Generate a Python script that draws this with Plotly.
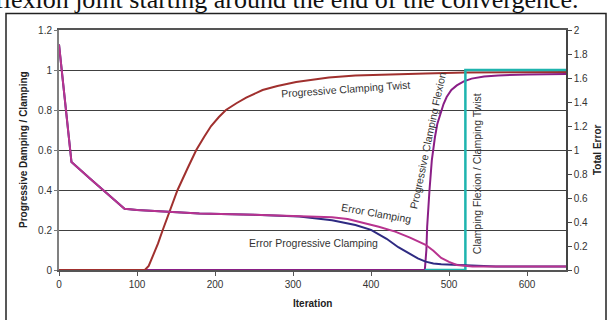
import plotly.graph_objects as go

# ---- data ----
# Error curves on the right axis (Total Error)
iter_err_clamp = [0, 16, 40, 60, 84, 100, 135, 180, 250, 308, 350, 370, 393, 410, 431, 450,
                  470, 480, 490, 500, 510, 520, 530, 560, 600, 650]
err_clamp = [1.88, 0.90, 0.76, 0.65, 0.51, 0.50, 0.485, 0.47, 0.46, 0.45, 0.44, 0.425, 0.39,
             0.36, 0.32, 0.27, 0.21, 0.16, 0.10, 0.067, 0.042, 0.033, 0.03, 0.03, 0.03, 0.03]

iter_err_prog = [0, 16, 40, 60, 84, 100, 135, 180, 250, 308, 350, 380, 400, 420, 435, 450,
                 460, 470, 480, 490, 500, 520, 530, 560, 600, 650]
err_prog = [1.88, 0.90, 0.76, 0.65, 0.51, 0.50, 0.485, 0.47, 0.46, 0.445, 0.415, 0.375, 0.335,
            0.26, 0.19, 0.135, 0.097, 0.07, 0.055, 0.048, 0.045, 0.04, 0.033, 0.03, 0.03, 0.03]

# Clamping curves on the left axis
iter_twist = [0, 110, 115, 120, 127, 133, 142, 152, 165, 176, 186, 195, 205, 214, 228, 240,
              261, 280, 304, 325, 346, 380, 420, 470, 521, 580, 650]
prog_twist = [0, 0, 0.02, 0.066, 0.133, 0.2, 0.29, 0.4, 0.51, 0.6, 0.665, 0.72, 0.765, 0.8,
              0.835, 0.862, 0.9, 0.92, 0.94, 0.953, 0.963, 0.972, 0.978, 0.983, 0.987, 0.99, 0.99]

iter_flex = [0, 469, 471, 472, 475, 478, 482, 485, 489, 493, 497, 503, 510, 519, 529, 545,
             563, 600, 650]
prog_flex = [0, 0, 0.1, 0.216, 0.4, 0.55, 0.665, 0.73, 0.78, 0.83, 0.865, 0.9, 0.923, 0.943,
             0.957, 0.967, 0.973, 0.978, 0.98]

iter_ratio = [469, 521, 521, 650]
ratio = [0, 0, 1.0, 1.0]

x_ticks = [0, 100, 200, 300, 400, 500, 600]
y_ticks = [0, 0.2, 0.4, 0.6, 0.8, 1, 1.2]
y2_ticks = [0, 0.2, 0.4, 0.6, 0.8, 1, 1.2, 1.4, 1.6, 1.8, 2]

# ---- layout geometry (pixels) ----
W, H = 612, 320
L, R, T, B = 59, 566, 29.5, 270
XS = (R - L) / 650.0
YS = (B - T) / 1.2


def px(x):
    return (x - L) / (R - L)


def py(y):
    return (B - y) / (B - T)


def dx(p):
    return (p - L) / XS


def dy(p):
    return (B - p) / YS


FONT = "Liberation Sans, Arial, sans-serif"
C_RED = "#A0302E"
C_PINK = "#B8338F"
C_NAVY = "#2E2A82"
C_PURPLE = "#8A1E86"
C_TEAL = "#1EB4AE"

fig = go.Figure()
fig.add_trace(go.Scatter(x=iter_err_prog, y=err_prog, yaxis="y2", mode="lines",
                         line=dict(color=C_NAVY, width=2), name="Error Progressive Clamping"))
fig.add_trace(go.Scatter(x=iter_err_clamp, y=err_clamp, yaxis="y2", mode="lines",
                         line=dict(color=C_PINK, width=2), name="Error Clamping"))
fig.add_trace(go.Scatter(x=iter_flex, y=prog_flex, mode="lines",
                         line=dict(color=C_PURPLE, width=2), name="Progressive Clamping Flexion"))
fig.add_trace(go.Scatter(x=iter_twist, y=prog_twist, mode="lines",
                         line=dict(color=C_RED, width=2), name="Progressive Clamping Twist"))
fig.add_trace(go.Scatter(x=iter_ratio, y=ratio, mode="lines",
                         line=dict(color=C_TEAL, width=2.5), name="Clamping Flexion / Clamping Twist"))

tickfont = dict(family=FONT, size=10, color="#333333")
lab = dict(family=FONT, size=10.5, color="#333333")
ttl = dict(family=FONT, size=10, color="#222222")

annotations = [
    dict(x=dx(345), y=dy(89), text="Progressive Clamping Twist", textangle=-4, font=lab),
    dict(x=dx(376), y=dy(213), text="Error Clamping", textangle=10, font=lab),
    dict(x=dx(313), y=dy(243), text="Error Progressive Clamping", font=lab),
    dict(x=dx(428), y=dy(140), text="Progressive Clamping Flexion", textangle=-78, font=lab),
    dict(x=dx(477), y=dy(174), text="Clamping Flexion / Clamping Twist", textangle=-90, font=lab),
]
for a in annotations:
    a.update(xref="x", yref="y", showarrow=False, xanchor="center", yanchor="middle")

annotations += [
    dict(x=px(23), y=0.5, text="<b>Progressive Damping / Clamping</b>", textangle=-90, font=ttl),
    dict(x=px(597), y=0.5, text="<b>Total Error</b>", textangle=-90, font=ttl),
    dict(x=px(312.5), y=py(304), text="<b>Iteration</b>", font=ttl),
]
for a in annotations[5:]:
    a.update(xref="paper", yref="paper", showarrow=False, xanchor="center", yanchor="middle")

# clipped caption text from the page above the figure
annotations.append(
    dict(x=px(-7), y=py(-1.5), xref="paper", yref="paper", xanchor="left", yanchor="middle",
         text="flexion joint starting around the end of the convergence.",
         showarrow=False, font=dict(family="Liberation Serif, Times New Roman, serif", size=26,
                                    color="#111111")))

shapes = [
    dict(type="rect", xref="paper", yref="paper", x0=px(6), x1=px(606), y0=py(330), y1=py(13),
         line=dict(color="#222222", width=1.5), fillcolor="rgba(0,0,0,0)", layer="below"),
]

fig.update_layout(
    width=W, height=H,
    margin=dict(l=L, r=W - R, t=T, b=H - B, pad=0),
    paper_bgcolor="white", plot_bgcolor="white",
    showlegend=False,
    font=dict(family=FONT, size=10, color="#333333"),
    xaxis=dict(range=[0, 650], tickvals=x_ticks, ticks="outside", ticklen=4,
               tickcolor="#555555", showgrid=False, zeroline=False, showline=True,
               linecolor="#555555", linewidth=1.5, mirror=True, tickfont=tickfont),
    yaxis=dict(range=[0, 1.2], tickvals=y_ticks, ticktext=["0", "0.2", "0.4", "0.6", "0.8", "1", "1.2"],
               ticks="outside", ticklen=3, tickcolor="#777777", showgrid=True,
               gridcolor="#404040", gridwidth=1, zeroline=False, showline=True,
               linecolor="#808080", linewidth=2, tickfont=tickfont),
    yaxis2=dict(range=[0, 2], tickvals=y2_ticks,
                ticktext=["0", "0.2", "0.4", "0.6", "0.8", "1", "1.2", "1.4", "1.6", "1.8", "2"],
                overlaying="y", side="right", ticks="outside", ticklen=4, tickcolor="#444444",
                showgrid=False, zeroline=False, showline=True, linecolor="#444444",
                linewidth=1.5, tickfont=tickfont),
    annotations=annotations,
    shapes=shapes,
)

fig.write_html("out.html", config={"displayModeBar": False},
               post_script="document.body.style.margin='0';document.body.style.overflow='hidden';")
